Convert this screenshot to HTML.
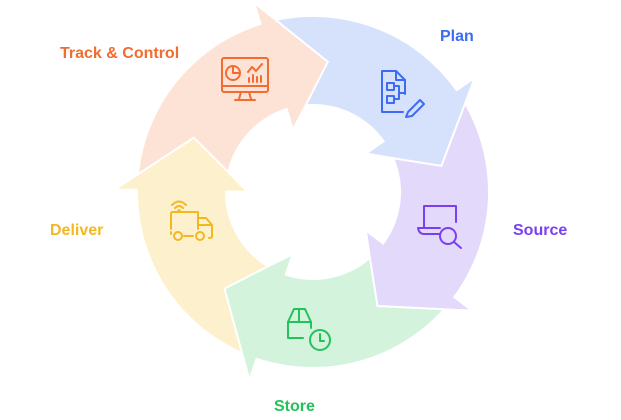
<!DOCTYPE html>
<html><head><meta charset="utf-8"><style>
html,body{margin:0;padding:0;background:#fff;width:621px;height:420px;overflow:hidden}
svg{display:block}
text{font-family:"Liberation Sans",sans-serif;font-weight:bold;font-size:16px}
</style></head><body>
<svg id="s" width="621" height="420" viewBox="0 0 621 420">
<g id="bodies"></g><g id="heads"></g>
<text x="60" y="58" fill="#f26b2f">Track &amp; Control</text>
<text x="440" y="41" fill="#3d6cf2">Plan</text>
<text x="513" y="235" fill="#7a3ff0">Source</text>
<text x="274" y="411" fill="#22c35a">Store</text>
<text x="50" y="235" fill="#f2b820">Deliver</text>
<g fill="none" stroke="#f26b2f" stroke-width="2" stroke-linecap="round" stroke-linejoin="round">
<rect x="222" y="58" width="46" height="34" rx="2"/><line x1="222" y1="86" x2="268" y2="86"/>
<path d="M241 92 L239 99 M249 92 L251 99 M235 100 H255"/>
<circle cx="233" cy="73" r="7"/><path d="M233 66 V73 H240"/>
<path d="M248 72 L252 67 L256 71 L262 64"/><path d="M249 82 V78 M253 82 V75 M257 82 V77 M261 82 V76"/>
</g>
<g fill="none" stroke="#3d6cf2" stroke-width="2" stroke-linecap="round" stroke-linejoin="round">
<path d="M405 94 V80 L396 71 H382 V112 H403"/><path d="M396 71 V80 H405"/>
<rect x="387" y="83" width="7" height="7"/><rect x="387" y="96" width="7" height="7"/><path d="M394 86 H399 V99 H394 M399 93 H404"/>
<path d="M408 112 L420 100 L424 104 L412 116 L406 117 Z"/>
</g>
<g fill="none" stroke="#7a3ff0" stroke-width="2" stroke-linecap="round" stroke-linejoin="round">
<path d="M424 228 V206 H456 V222"/><path d="M418 228 H440 M418 228 Q419 234 424 234 H440"/>
<circle cx="448" cy="236" r="8"/><path d="M454 242 L461 248"/>
</g>
<g fill="none" stroke="#22c35a" stroke-width="2" stroke-linecap="round" stroke-linejoin="round">
<path d="M288 322 V338 H303"/><path d="M288 322 L294 309 H305 L311 322 V328"/><path d="M288 322 H311 M299 309 V322"/>
<circle cx="320" cy="340" r="10"/><path d="M320 334 V341 H324"/>
</g>
<g fill="none" stroke="#f2b820" stroke-width="2" stroke-linecap="round" stroke-linejoin="round">
<path d="M171 229 V214 Q171 212 173 212 H198 V229"/><path d="M198 218 H206 L212 225 V236 Q212 238 209 238"/>
<path d="M198 225 H212"/><circle cx="178" cy="236" r="4"/><circle cx="200" cy="236" r="4"/><path d="M184 236 H193 M171 232 V234"/>
<path d="M172 205 Q179 198 186 205 M175 208 Q179 204 183 208"/><circle cx="179" cy="211" r="0.8" fill="#f2b820"/>
</g>
</svg>
<script>
var cx=313,cy=192,R=175,r=88,Ro=195,Ri=68,Rm=131;
var cols=["#fde3d6","#d6e2fb","#e3d9fa","#d3f3dd","#fdf0cc"];
function P(rad,deg){var a=deg*Math.PI/180;return (cx+rad*Math.sin(a)).toFixed(1)+" "+(cy-rad*Math.cos(a)).toFixed(1);}
var b="",h="";
for(var k=0;k<5;k++){
 var tb=-17+72*k, ts=tb-72;
 b+='<path fill="'+cols[k]+'" d="M'+P(R,ts)+' A'+R+' '+R+' 0 0 1 '+P(R,tb)+' L'+P(r,tb)+' A'+r+' '+r+' 0 0 0 '+P(r,ts)+' Z"/>';
}
for(var k=0;k<5;k++){
 var tb=-17+72*k;
 h+='<path fill="'+cols[k]+'" d="M'+P(Ro,tb)+' L'+P(Rm,tb+23.5)+' L'+P(Ri,tb)+' L'+P(r,tb)+' A'+r+' '+r+' 0 0 0 '+P(r,tb-6)+' L'+P(R,tb-6)+' A'+R+' '+R+' 0 0 1 '+P(R,tb)+' Z"/>';
 h+='<path fill="none" stroke="#fff" stroke-width="2" stroke-linejoin="miter" d="M'+P(Ro+2,tb)+' L'+P(Rm,tb+23.5)+' L'+P(Ri-2,tb)+'"/>';
}
document.getElementById("bodies").innerHTML=b;
document.getElementById("heads").innerHTML=h;
</script>
</body></html>
